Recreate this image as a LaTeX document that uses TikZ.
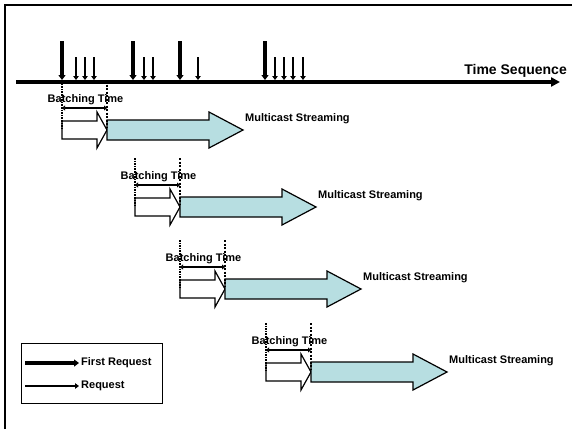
\documentclass[tikz,border=0pt]{standalone}
\usepackage{fontspec}
\setmainfont{Liberation Sans}
\usetikzlibrary{arrows.meta}
\definecolor{mcblue}{RGB}{183,222,225}
\tikzset{
  lbl/.style={font=\fontsize{11pt}{13pt}\selectfont\bfseries, inner sep=0pt},
  firstreq/.style={line width=4pt, -{Triangle[length=5pt,width=7pt]}},
  plainreq/.style={line width=2.2pt, -{Triangle[length=4pt,width=5.5pt]}},
  leftmark/.style={line width=2.6pt, dash pattern=on 1.6pt off 1pt},
  rightmark/.style={line width=1.3pt, dash pattern=on 2pt off 1.5pt},
  dimarrow/.style={line width=1.8pt, {Triangle[length=3pt,width=5pt]}-{Triangle[length=3pt,width=5pt]}},
  waitarrow/.style={draw, line width=1.2pt, fill=white, line join=miter},
  mcarrow/.style={draw, line width=1.2pt, fill=mcblue, line join=miter},
}
\begin{document}
\begin{tikzpicture}[x=1pt,y=-1pt]
\useasboundingbox (0,0) rectangle (572,429);
\fill[white] (0,0) rectangle (572,429);
% frame
\draw[line width=1.5pt] (5,429) -- (5,5) -- (572,5);
% time axis
\coordinate (axs) at (16,82);
\coordinate (axe) at (560,82);
\draw[line width=4pt, -{Triangle[length=9pt,width=9pt]}] (axs) -- (axe);
\node[lbl, font=\fontsize{14pt}{16pt}\selectfont\bfseries, anchor=base east] (ts) at (567,74) {Time Sequence};
% requests
\foreach \x [count=\i] in {62,133,180,265}{
  \coordinate (ft\i) at (\x,41);
  \coordinate (fb\i) at (\x,80);
  \draw[firstreq] (ft\i) -- (fb\i);
}
\foreach \x [count=\i] in {76,85,94,144,153,198,275,284,293,303}{
  \coordinate (rt\i) at (\x,57);
  \coordinate (rb\i) at (\x,80);
  \draw[plainreq] (rt\i) -- (rb\i);
}
% batching blocks
\foreach \x/\c [count=\i] in {62/130,135/207,180/289,266/372}{
  \node[lbl] (bt\i) at (\x+23.5,\c-30) {Batching Time};
  \path[waitarrow] (\x,\c-9) -- (\x+35,\c-9) -- (\x+35,\c-18) -- (\x+45,\c) -- (\x+35,\c+18) -- (\x+35,\c+9) -- (\x,\c+9) -- cycle;
  \path[mcarrow] (\x+45,\c-10) -- (\x+147,\c-10) -- (\x+147,\c-18) -- (\x+181,\c) -- (\x+147,\c+18) -- (\x+147,\c+10) -- (\x+45,\c+10) -- cycle;
  \node[lbl, anchor=west] (ms\i) at (\x+183,\c-11) {Multicast Streaming};
  \coordinate (dl\i) at (\x,\c-22);
  \coordinate (dr\i) at (\x+45,\c-22);
  \draw[dimarrow] (dl\i) -- (dr\i);
  \draw[leftmark] (\x,\c-49) -- (\x,\c);
  \draw[rightmark] (\x+45,\c-49) -- (\x+45,\c-2);
}
% legend
\node[draw, line width=1.2pt, minimum width=141pt, minimum height=60pt, inner sep=0pt, anchor=north west] (leg) at (21,343) {};
\coordinate (l1a) at (25,363);
\coordinate (l1b) at (79,363);
\coordinate (l2a) at (25,386);
\coordinate (l2b) at (79,386);
\draw[firstreq] (l1a) -- (l1b);
\draw[plainreq] (l2a) -- (l2b);
\node[lbl, anchor=west] (lf) at (81,363) {First Request};
\node[lbl, anchor=west] (lr) at (81,386) {Request};
\end{tikzpicture}
\end{document}
